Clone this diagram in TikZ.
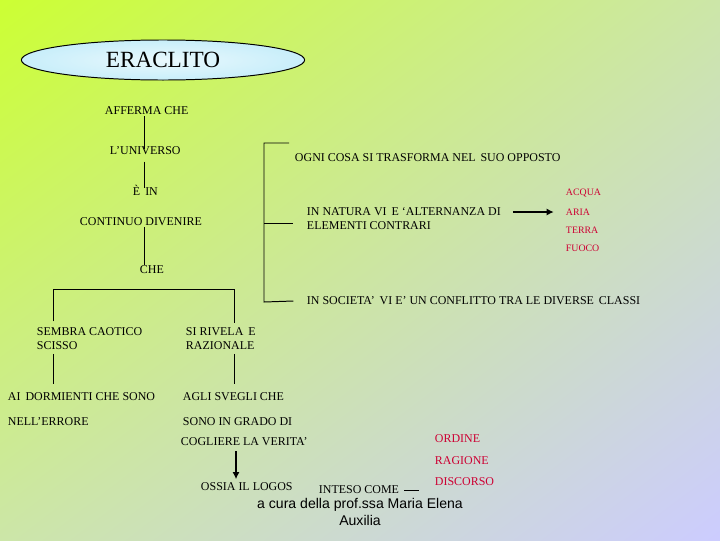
\documentclass[tikz,border=0pt]{standalone}
\usepackage{fontspec}
\setmainfont{Liberation Serif}
\setsansfont{Liberation Sans}
\usetikzlibrary{arrows.meta,shapes.geometric,shadings}
\definecolor{bgtop}{RGB}{204,255,51}
\definecolor{bgmid}{RGB}{204,230,168}
\definecolor{bgbot}{RGB}{204,204,255}
\definecolor{rosso}{RGB}{204,0,51}
\definecolor{nuvola}{RGB}{200,238,250}

\begin{document}
\begin{tikzpicture}[x=0.025cm,y=-0.025cm,>=Latex,
  txt/.style={inner sep=0.5pt,anchor=west,align=left,font=\fontsize{8.5}{9.9}\selectfont},
  elem/.style={txt,text=rosso,font=\fontsize{7}{8}\selectfont},
  voce/.style={txt,text=rosso,font=\fontsize{8.5}{10}\selectfont},
  tratto/.style={line width=0.7pt},
  fat/.style={line width=1.6pt,-{Latex[length=5pt,width=5pt]}}]
% background
\shade[upper left=bgtop,upper right=bgmid,lower left=bgmid,lower right=bgbot] (0,0) rectangle (720,540);
\useasboundingbox (0,0) rectangle (720,540);
% title
\node[ellipse,draw,line width=0.7pt,inner color=nuvola!40,outer color=nuvola,minimum width=7.08cm,minimum height=1cm] (eraclito) at (163,60) {\fontsize{16.5}{18}\selectfont ERACLITO};
% left column
\node[txt] (afferma) at (104,111) {AFFERMA CHE};
\node[txt] (universo) at (109,151) {L'UNIVERSO};
\node[txt] (ein) at (132,190) {È\, IN};
\node[txt] (divenire) at (79,222) {CONTINUO DIVENIRE};
\node[txt] (che) at (139,270) {CHE};
\node[txt] (caotico) at (36,339) {SEMBRA CAOTICO\\SCISSO};
\node[txt] (razionale) at (185,339) {SI RIVELA\, E\\RAZIONALE};
\node[txt] (dormienti) at (7,397) {AI\, DORMIENTI CHE SONO};
\node[txt] (errore) at (7,422) {NELL'ERRORE};
\node[txt] (svegli) at (182,397) {AGLI SVEGLI CHE};
\node[txt] (grado) at (182,422) {SONO IN GRADO DI};
\node[txt] (verita) at (180,442) {COGLIERE LA VERITA'};
\node[txt] (logos) at (200,487) {OSSIA IL LOGOS};
\node[txt] (inteso) at (318,490) {INTESO COME};
\node[voce] (ordine) at (434,439) {ORDINE};
\node[voce] (ragione) at (434,461) {RAGIONE};
\node[voce] (discorso) at (434,482) {DISCORSO};
% right column
\node[txt] (opposto) at (294,158) {OGNI COSA SI TRASFORMA NEL\, SUO OPPOSTO};
\node[txt] (natura) at (306,219) {IN NATURA VI\, E `ALTERNANZA DI\\ELEMENTI CONTRARI};
\node[elem] (acqua) at (565,193) {ACQUA};
\node[elem] (aria) at (565,212) {ARIA};
\node[elem] (terra) at (565,230) {TERRA};
\node[elem] (fuoco) at (565,248) {FUOCO};
\node[txt] (societa) at (306,301) {IN SOCIETA'\, VI E' UN CONFLITTO TRA LE DIVERSE\, CLASSI};
% credit
\node[inner sep=0pt,align=center,font=\sffamily\fontsize{10}{12}\selectfont] (cura) at (360,512) {a cura della prof.ssa Maria Elena\\Auxilia};
% connectors
\coordinate (spine) at (144,0);
\coordinate (fl) at (53,289);
\coordinate (fr) at (234,289);
\coordinate (b1) at (289,143);
\coordinate (b2) at (264,143);
\coordinate (b3) at (264,302);
\coordinate (giu) at (236,0);
\draw[tratto] (afferma.south -| spine) -- ([yshift=-2pt]universo.north -| spine);
\draw[tratto] ([yshift=-4pt]universo.south -| spine) -- ([yshift=-3pt]ein.north -| spine);
\draw[tratto] (divenire.south -| spine) -- (che.north -| spine);
\draw[tratto] ([yshift=4pt]caotico.north -| fl) -- (fl) -- (fr) -- ([yshift=3pt]razionale.north -| fr);
\draw[tratto] ([yshift=-2pt]caotico.south -| fl) -- ([yshift=6pt]dormienti.north -| fl);
\draw[tratto] ([yshift=-2pt]razionale.south -| fr) -- ([yshift=6pt]svegli.north -| fr);
\draw[tratto] (b1) -- (b2) -- (b3) -- ([xshift=-9pt]societa.west);
\draw[tratto] ([yshift=-3pt]natura.west -| b2) -- ([xshift=-9pt,yshift=-3pt]natura.west);
\draw[fat,shorten <=8pt,shorten >=8pt] (natura.east |- aria.west) -- (aria.west);
\draw[fat] ([yshift=-3pt]verita.south -| giu) -- ([yshift=2pt]logos.north -| giu);
\draw[tratto] ([xshift=3pt]inteso.east) -- ([xshift=-11pt]discorso.west |- inteso.east);
\end{tikzpicture}
\end{document}
